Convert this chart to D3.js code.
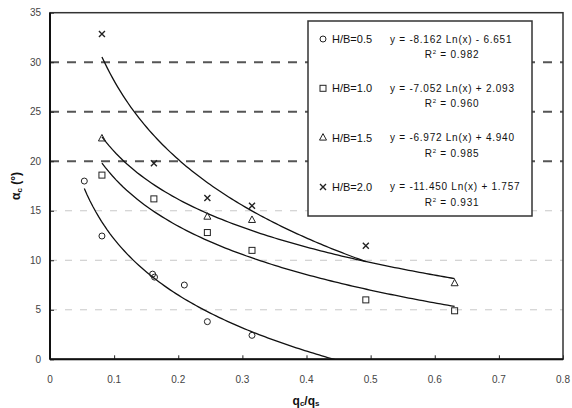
<!DOCTYPE html>
<html>
<head>
<meta charset="utf-8">
<script src="https://cdn.jsdelivr.net/npm/d3@7"></script>
<style>
  body { margin: 0; background: #fff; }
  svg { font-family: "Liberation Sans", Arial, sans-serif; }
</style>
</head>
<body>
<div id="chart"></div>
<script>
!(function () {
  'use strict';

  // data
  const seriesNames = ['H/B=0.5', 'H/B=1.0', 'H/B=1.5', 'H/B=2.0'];
  const markerTypes = ['circle', 'square', 'triangle', 'cross'];
  const hb05 = [[0.0535, 18.0], [0.081, 12.45], [0.160, 8.6], [0.163, 8.3], [0.2095, 7.5], [0.2454, 3.8], [0.315, 2.42]];
  const hb10 = [[0.081, 18.6], [0.162, 16.2], [0.2454, 12.8], [0.315, 11.0], [0.4925, 6.0], [0.631, 4.9]];
  const hb15 = [[0.081, 22.3], [0.2454, 14.4], [0.315, 14.07], [0.631, 7.68]];
  const hb20 = [[0.081, 32.86], [0.162, 19.8], [0.2454, 16.3], [0.315, 15.5], [0.4925, 11.47]];
  // logarithmic trend lines y = a ln(x) + b
  const trendA = [-8.162, -7.052, -6.972, -11.450];
  const trendB = [-6.651, 2.093, 4.940, 1.757];
  const trendRange = [[0.0535, 0.5], [0.081, 0.631], [0.081, 0.631], [0.081, 0.4925]];
  const equations = ['y = -8.162 Ln(x) - 6.651', 'y = -7.052 Ln(x) + 2.093', 'y = -6.972 Ln(x) + 4.940', 'y = -11.450 Ln(x) + 1.757'];
  const rSquared = ['0.982', '0.960', '0.985', '0.931'];
  const xTicks = [0, 0.1, 0.2, 0.3, 0.4, 0.5, 0.6, 0.7, 0.8];
  const yTicks = [0, 5, 10, 15, 20, 25, 30, 35];
  const darkGrid = [20, 25, 30];
  const lightGrid = [5, 10, 15];

  const allSeries = [hb05, hb10, hb15, hb20];

  const width = 572, height = 408;
  const plot = { left: 50, right: 563, top: 12.7, bottom: 359.3 };

  const svg = d3.select('#chart').append('svg')
    .attr('width', width)
    .attr('height', height);

  const x = d3.scaleLinear().domain([0, 0.8]).range([plot.left, plot.right]);
  const y = d3.scaleLinear().domain([0, 35]).range([plot.bottom, plot.top]);

  svg.append('clipPath').attr('id', 'clip')
    .append('rect')
    .attr('x', plot.left).attr('y', plot.top)
    .attr('width', plot.right - plot.left).attr('height', plot.bottom - plot.top);

  // grid lines
  svg.selectAll('.lgrid').data(lightGrid).enter().append('line')
    .attr('x1', plot.left).attr('x2', plot.right)
    .attr('y1', d => y(d)).attr('y2', d => y(d))
    .attr('stroke', '#c8c8c8').attr('stroke-width', 1)
    .attr('stroke-dasharray', '7,8');

  svg.selectAll('.dgrid').data(darkGrid).enter().append('line')
    .attr('x1', plot.left).attr('x2', plot.right)
    .attr('y1', d => y(d)).attr('y2', d => y(d))
    .attr('stroke', '#555').attr('stroke-width', 2)
    .attr('stroke-dasharray', '9,8');

  // axes (ticks pointing inward)
  svg.append('g')
    .attr('transform', 'translate(0,' + plot.bottom + ')')
    .call(d3.axisTop(x).tickValues(xTicks).tickSize(4).tickFormat(''))
    .call(g => g.select('.domain').remove())
    .selectAll('line').attr('stroke', '#222');

  svg.append('g')
    .attr('transform', 'translate(' + plot.left + ',0)')
    .call(d3.axisRight(y).tickValues(yTicks).tickSize(4).tickFormat(''))
    .call(g => g.select('.domain').remove())
    .selectAll('line').attr('stroke', '#222');

  svg.selectAll('.xlab').data(xTicks).enter().append('text')
    .attr('x', d => x(d)).attr('y', 383)
    .attr('text-anchor', 'middle')
    .attr('font-size', 10).attr('fill', '#444')
    .text(d => d);

  svg.selectAll('.ylab').data(yTicks).enter().append('text')
    .attr('x', 41).attr('y', d => y(d) + 3.5)
    .attr('text-anchor', 'end')
    .attr('font-size', 10).attr('fill', '#444')
    .text(d => d);

  // trend lines
  const line = d3.line().x(d => x(d[0])).y(d => y(d[1]));
  allSeries.forEach(function (s, i) {
    const r = trendRange[i];
    const pts = d3.range(0, 101).map(k => {
      const xv = r[0] + (r[1] - r[0]) * k / 100;
      return [xv, trendA[i] * Math.log(xv) + trendB[i]];
    });
    svg.append('path')
      .attr('clip-path', 'url(#clip)')
      .attr('d', line(pts))
      .attr('fill', 'none').attr('stroke', '#111').attr('stroke-width', 1.3);
  });

  // markers
  function drawMarker(g, type, cx, cy) {
    if (type === 'circle') {
      g.append('circle').attr('cx', cx).attr('cy', cy).attr('r', 3)
        .attr('fill', 'none').attr('stroke', '#222').attr('stroke-width', 1);
    } else if (type === 'square') {
      g.append('rect').attr('x', cx - 3).attr('y', cy - 3).attr('width', 6).attr('height', 6)
        .attr('fill', 'none').attr('stroke', '#222').attr('stroke-width', 1);
    } else if (type === 'triangle') {
      g.append('path').attr('d', 'M' + cx + ',' + (cy - 4) + 'L' + (cx + 3.5) + ',' + (cy + 2.5) + 'L' + (cx - 3.5) + ',' + (cy + 2.5) + 'Z')
        .attr('fill', 'none').attr('stroke', '#222').attr('stroke-width', 1);
    } else {
      g.append('path').attr('d', 'M' + (cx - 3) + ',' + (cy - 3) + 'L' + (cx + 3) + ',' + (cy + 3) + 'M' + (cx + 3) + ',' + (cy - 3) + 'L' + (cx - 3) + ',' + (cy + 3))
        .attr('fill', 'none').attr('stroke', '#222').attr('stroke-width', 1.4);
    }
  }

  allSeries.forEach(function (s, i) {
    const g = svg.append('g');
    s.forEach(d => drawMarker(g, markerTypes[i], x(d[0]), y(d[1])));
  });

  // plot border
  svg.append('rect')
    .attr('x', plot.left).attr('y', plot.top)
    .attr('width', plot.right - plot.left).attr('height', plot.bottom - plot.top)
    .attr('fill', 'none').attr('stroke', '#333').attr('stroke-width', 1.5);
  svg.append('line')
    .attr('x1', plot.left).attr('x2', plot.right)
    .attr('y1', plot.bottom).attr('y2', plot.bottom)
    .attr('stroke', '#111').attr('stroke-width', 2);
  svg.append('line')
    .attr('x1', plot.left).attr('x2', plot.left)
    .attr('y1', plot.top).attr('y2', plot.bottom)
    .attr('stroke', '#111').attr('stroke-width', 2);

  // legend
  const legend = svg.append('g');
  legend.append('rect')
    .attr('x', 308).attr('y', 21).attr('width', 224).attr('height', 195)
    .attr('fill', '#fff').attr('stroke', '#333').attr('stroke-width', 1.5);

  seriesNames.forEach(function (name, i) {
    const ry = 39 + i * 49.3;
    drawMarker(legend, markerTypes[i], 323, ry);
    legend.append('text')
      .attr('x', 332).attr('y', ry + 4)
      .attr('font-size', 11).attr('fill', '#111')
      .text(name);
    legend.append('text')
      .attr('x', 390).attr('y', ry + 3.5)
      .attr('font-size', 10).attr('letter-spacing', 0.75).attr('fill', '#111')
      .text(equations[i]);
    const r2 = legend.append('text')
      .attr('x', 452).attr('y', ry + 19)
      .attr('text-anchor', 'middle')
      .attr('font-size', 10).attr('letter-spacing', 0.75).attr('fill', '#111');
    r2.append('tspan').text('R');
    r2.append('tspan').attr('font-size', 6).attr('dy', -4).text('2');
    r2.append('tspan').attr('dy', 4).text(' = ' + rSquared[i]);
  });

  // axis titles
  const xt = svg.append('text')
    .attr('x', 306).attr('y', 405)
    .attr('text-anchor', 'middle')
    .attr('font-size', 12).attr('font-weight', 'bold').attr('fill', '#111');
  xt.append('tspan').text('q');
  xt.append('tspan').attr('font-size', 8).attr('dy', 1).text('c');
  xt.append('tspan').attr('dy', -1).text('/q');
  xt.append('tspan').attr('font-size', 8).attr('dy', 1).text('s');

  const yt = svg.append('text')
    .attr('transform', 'translate(20,186) rotate(-90)')
    .attr('text-anchor', 'middle')
    .attr('font-size', 12).attr('font-weight', 'bold').attr('fill', '#111');
  yt.append('tspan').text('α');
  yt.append('tspan').attr('font-size', 8).attr('dy', 2).text('c');
  yt.append('tspan').attr('dy', -2).text(' (°)');
}());
</script>
</body>
</html>
